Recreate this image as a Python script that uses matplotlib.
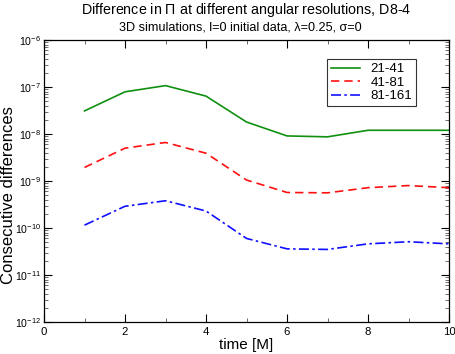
import matplotlib
matplotlib.use('Agg')
from matplotlib import pyplot as plt
from matplotlib.ticker import LogLocator, MultipleLocator, NullFormatter

plt.rcParams['font.family'] = ['Liberation Sans', 'DejaVu Sans']
plt.rcParams['mathtext.fontset'] = 'custom'
plt.rcParams['mathtext.rm'] = 'Liberation Sans'
plt.rcParams['mathtext.it'] = 'Liberation Sans:italic'

time = [1, 2, 3, 4, 5, 6, 7, 8, 9, 10]
d21_41 = [3.1e-8, 7.9e-8, 1.07e-7, 6.4e-8, 1.8e-8, 9.1e-9, 8.7e-9, 1.2e-8, 1.2e-8, 1.2e-8]
d41_81 = [1.94e-9, 5.0e-9, 6.6e-9, 3.9e-9, 1.05e-9, 5.7e-10, 5.6e-10, 7.2e-10, 8.0e-10, 7.2e-10]
d81_161 = [1.15e-10, 2.9e-10, 3.8e-10, 2.3e-10, 6.0e-11, 3.6e-11, 3.5e-11, 4.6e-11, 5.1e-11, 4.6e-11]
labels = ['21-41', '41-81', '81-161']

fig = plt.figure(figsize=(4.56, 3.54), dpi=100)
ax = fig.add_axes([44/456, 1 - 322/354, 405/456, 282/354])

ax.plot(time, d21_41, color='#109010', lw=1.2, ls='-', label=labels[0])
ax.plot(time, d41_81, color='#ff1010', lw=1.2, ls=(0, (5, 3)), label=labels[1])
ax.plot(time, d81_161, color='#1010ff', lw=1.2, ls=(0, (6, 2, 1.5, 2)), label=labels[2])

ax.set_yscale('log')
ax.set_xlim(0, 10)
ax.set_ylim(1e-12, 1e-6)
ax.xaxis.set_major_locator(MultipleLocator(2))
ax.xaxis.set_minor_locator(MultipleLocator(1))
ax.yaxis.set_major_locator(LogLocator(base=10, numticks=10))
ax.yaxis.set_minor_locator(LogLocator(base=10, subs=range(2, 10), numticks=10))
ax.yaxis.set_minor_formatter(NullFormatter())

ax.tick_params(which='both', direction='in', top=True, right=True)
ax.tick_params(axis='x', labelsize=8.2)
ax.tick_params(axis='y', labelsize=7.6, pad=2)
ax.tick_params(which='major', length=6, width=0.8)
ax.tick_params(which='minor', length=3, width=0.6, color='#555555')
for s in ax.spines.values():
    s.set_linewidth(0.9)

ax.set_xlabel('time [M]', fontsize=11)
ax.xaxis.set_label_coords(0.5, -16/282)
ax.set_ylabel('Consecutive differences', fontsize=12)
ax.yaxis.set_label_coords(-28/405, 0.449)

cx = (44 + 449) / 2 / 456
fig.text(cx, 1 - 10/354, r'Difference in $\Pi$ at different angular resolutions, D8-4',
         ha='center', va='center', fontsize=10.3)
fig.text(cx - 6/456, 1 - 27/354, '3D simulations, l=0 initial data, \u03bb=0.25, \u03c3=0',
         ha='center', va='center', fontsize=9.1)

leg = ax.legend(loc='upper left', bbox_to_anchor=((327 - 44)/405, (322 - 59)/282),
                fontsize=9.5, frameon=True, fancybox=False, edgecolor='black',
                borderpad=0.3, labelspacing=0.1, handlelength=2.2, borderaxespad=0)
leg.get_frame().set_linewidth(0.8)

fig.savefig('out.png', dpi=100)
